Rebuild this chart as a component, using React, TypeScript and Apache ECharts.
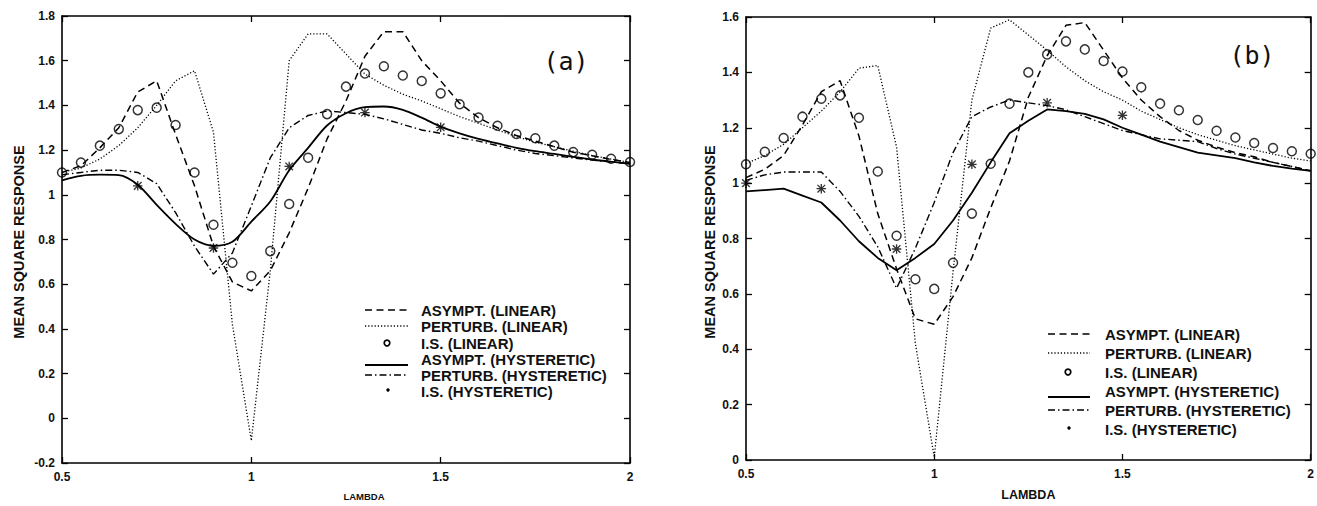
import React, { useEffect, useRef } from "react";
import * as echarts from "echarts";

// ---------- data ----------
const LAMBDA = [0.5, 0.55, 0.6, 0.65, 0.7, 0.75, 0.8, 0.85, 0.9, 0.95, 1.0, 1.05, 1.1, 1.15, 1.2, 1.25, 1.3, 1.35, 1.4, 1.45, 1.5, 1.55, 1.6, 1.65, 1.7, 1.75, 1.8, 1.85, 1.9, 1.95, 2.0];

// panel (a)
const A_ASYMPT_LIN = [1.10, 1.13, 1.21, 1.30, 1.46, 1.51, 1.27, 1.04, 0.77, 0.61, 0.57, 0.66, 0.83, 1.03, 1.25, 1.42, 1.62, 1.73, 1.73, 1.60, 1.51, 1.41, 1.345, 1.30, 1.265, 1.24, 1.215, 1.19, 1.175, 1.158, 1.145];
const A_PERTURB_LIN = [1.10, 1.12, 1.16, 1.22, 1.30, 1.40, 1.51, 1.555, 1.28, 0.42, -0.10, 0.66, 1.60, 1.72, 1.72, 1.63, 1.54, 1.49, 1.45, 1.42, 1.385, 1.35, 1.32, 1.29, 1.26, 1.235, 1.215, 1.195, 1.175, 1.16, 1.145];
const A_IS_LIN = [1.10, 1.144, 1.22, 1.294, 1.379, 1.39, 1.312, 1.10, 0.866, 0.696, 0.637, 0.748, 0.959, 1.166, 1.361, 1.484, 1.543, 1.575, 1.534, 1.509, 1.454, 1.405, 1.346, 1.309, 1.272, 1.253, 1.22, 1.191, 1.179, 1.161, 1.147];
const A_ASYMPT_HYS = [1.065, 1.085, 1.09, 1.088, 1.045, 0.955, 0.87, 0.80, 0.772, 0.79, 0.88, 0.97, 1.11, 1.21, 1.31, 1.365, 1.392, 1.395, 1.38, 1.345, 1.305, 1.275, 1.25, 1.23, 1.21, 1.195, 1.183, 1.17, 1.158, 1.148, 1.139];
const A_PERTURB_HYS = [1.09, 1.10, 1.11, 1.11, 1.10, 1.05, 0.92, 0.77, 0.645, 0.74, 0.95, 1.165, 1.30, 1.355, 1.375, 1.368, 1.36, 1.34, 1.315, 1.29, 1.275, 1.255, 1.24, 1.22, 1.20, 1.185, 1.175, 1.165, 1.155, 1.147, 1.139];
const A_IS_HYS_X = [0.7, 0.9, 1.1, 1.3, 1.5];
const A_IS_HYS_Y = [1.04, 0.762, 1.127, 1.368, 1.302];

// panel (b)
const B_ASYMPT_LIN = [1.02, 1.05, 1.10, 1.21, 1.33, 1.37, 1.17, 0.89, 0.69, 0.51, 0.49, 0.59, 0.73, 0.91, 1.08, 1.31, 1.46, 1.57, 1.58, 1.48, 1.38, 1.30, 1.24, 1.19, 1.155, 1.13, 1.11, 1.095, 1.075, 1.06, 1.045];
const B_PERTURB_LIN = [1.07, 1.10, 1.14, 1.20, 1.26, 1.33, 1.415, 1.425, 1.13, 0.42, 0.01, 0.68, 1.30, 1.56, 1.59, 1.535, 1.48, 1.42, 1.37, 1.33, 1.30, 1.26, 1.23, 1.20, 1.175, 1.155, 1.135, 1.12, 1.105, 1.09, 1.08];
const B_IS_LIN = [1.068, 1.113, 1.163, 1.24, 1.305, 1.317, 1.236, 1.042, 0.81, 0.653, 0.618, 0.712, 0.89, 1.07, 1.287, 1.40, 1.465, 1.512, 1.483, 1.441, 1.403, 1.346, 1.287, 1.263, 1.228, 1.189, 1.165, 1.145, 1.127, 1.115, 1.106];
const B_ASYMPT_HYS = [0.97, 0.975, 0.98, 0.955, 0.93, 0.865, 0.79, 0.73, 0.685, 0.73, 0.78, 0.865, 0.965, 1.075, 1.18, 1.225, 1.266, 1.26, 1.25, 1.23, 1.20, 1.175, 1.15, 1.13, 1.11, 1.10, 1.09, 1.075, 1.062, 1.052, 1.044];
const B_PERTURB_HYS = [1.01, 1.03, 1.04, 1.04, 1.04, 0.97, 0.88, 0.77, 0.62, 0.765, 0.93, 1.11, 1.24, 1.275, 1.30, 1.29, 1.28, 1.265, 1.24, 1.215, 1.19, 1.175, 1.16, 1.155, 1.15, 1.125, 1.105, 1.09, 1.075, 1.06, 1.044];
const B_IS_HYS_X = [0.5, 0.7, 0.9, 1.1, 1.3, 1.5];
const B_IS_HYS_Y = [1.0, 0.98, 0.762, 1.068, 1.29, 1.245];

const X_TICKS = [0.5, 1, 1.5, 2];
const LEGEND_LABELS = ["ASYMPT. (LINEAR)", "PERTURB. (LINEAR)", "I.S. (LINEAR)", "ASYMPT. (HYSTERETIC)", "PERTURB. (HYSTERETIC)", "I.S. (HYSTERETIC)"];
const Y_TITLE = "MEAN SQUARE RESPONSE";
const X_TITLE = "LAMBDA";

// ---------- styles ----------
const FONT = "'Liberation Sans', Arial, Helvetica, sans-serif";
const STAR_PATH =
  "path://M4.3,0L5.7,0L5.7,10L4.3,10Z M0,4.3L10,4.3L10,5.7L0,5.7Z M0.5,1.5L1.5,0.5L9.5,8.5L8.5,9.5Z M8.5,0.5L9.5,1.5L1.5,9.5L0.5,8.5Z";
const DASH = [7, 4.5];
const DOT = [1.2, 2];
const DASHDOT = [7, 3, 1.5, 3];

const pairs = (ys: number[]) => LAMBDA.map((x, i) => [x, ys[i]]);
const zip = (xs: number[], ys: number[]) => xs.map((x, i) => [x, ys[i]]);

function panelSeries(idx: number, d: any) {
  const base = { xAxisIndex: idx * 2, yAxisIndex: idx * 2, silent: true };
  return [
    { ...base, type: "line", name: LEGEND_LABELS[0], data: pairs(d.asLin), symbol: "none", lineStyle: { color: "#000", width: 1.5, type: DASH } },
    { ...base, type: "line", name: LEGEND_LABELS[1], data: pairs(d.peLin), symbol: "none", lineStyle: { color: "#000", width: 1.3, type: DOT } },
    { ...base, type: "scatter", name: LEGEND_LABELS[2], data: pairs(d.isLin), symbol: "circle", symbolSize: 9, itemStyle: { color: "rgba(255,255,255,0)", borderColor: "#000", borderWidth: 1.5 } },
    { ...base, type: "line", name: LEGEND_LABELS[3], data: pairs(d.asHys), symbol: "none", smooth: d.smooth, lineStyle: { color: "#000", width: 1.8, type: "solid" } },
    { ...base, type: "line", name: LEGEND_LABELS[4], data: pairs(d.peHys), symbol: "none", lineStyle: { color: "#000", width: 1.4, type: DASHDOT } },
    { ...base, type: "scatter", name: LEGEND_LABELS[5], data: zip(d.isHysX, d.isHysY), symbol: STAR_PATH, symbolSize: 9.5, itemStyle: { color: "#000" } },
  ];
}

function axes(gridIndex: number, ymin: number, ymax: number, titleSize: number, titlePad: number) {
  const line = { show: true, onZero: false, lineStyle: { color: "#000", width: 1.6 } };
  const tick = { show: true, inside: true, length: 6, lineStyle: { color: "#000", width: 1.3 } };
  const lbl = { color: "#111", fontFamily: FONT, fontWeight: "bold", fontSize: 12 };
  const xa = [
    {
      gridIndex, type: "value", min: 0.5, max: 2, interval: 0.5, position: "bottom",
      axisLine: line, axisTick: tick, splitLine: { show: false },
      axisLabel: { ...lbl, margin: 8, formatter: (v: number) => (X_TICKS.includes(v) ? String(v) : "") },
      name: X_TITLE, nameLocation: "middle", nameGap: 28,
      nameTextStyle: { color: "#111", fontFamily: FONT, fontWeight: "bold", fontSize: titleSize, padding: [0, 0, 0, titlePad] },
    },
    {
      gridIndex, type: "value", min: 0.5, max: 2, interval: 0.5, position: "top",
      axisLine: line, axisTick: tick, splitLine: { show: false }, axisLabel: { show: false },
    },
  ];
  const ya = [
    {
      gridIndex, type: "value", min: ymin, max: ymax, interval: 0.2, position: "left",
      axisLine: line, axisTick: tick, splitLine: { show: false },
      axisLabel: { ...lbl, margin: 7 },
    },
    {
      gridIndex, type: "value", min: ymin, max: ymax, interval: 0.2, position: "right",
      axisLine: line, axisTick: tick, splitLine: { show: false }, axisLabel: { show: false },
    },
  ];
  return { xa, ya };
}

function legendGraphics(lineX1: number, lineX2: number, markX: number, textX: number, rows: number[], fontSize: number) {
  const els: any[] = [];
  const ln = (y: number, dash: any, w: number) => ({
    type: "line", silent: true,
    shape: { x1: lineX1, y1: y, x2: lineX2, y2: y },
    style: { stroke: "#000", lineWidth: w, lineDash: dash },
  });
  els.push(ln(rows[0], DASH, 1.5));
  els.push(ln(rows[1], DOT, 1.3));
  els.push({ type: "circle", silent: true, shape: { cx: markX, cy: rows[2], r: 2.8 }, style: { fill: "none", stroke: "#000", lineWidth: 1.7 } });
  els.push(ln(rows[3] + 6, null, 1.8));
  els.push(ln(rows[4], DASHDOT, 1.4));
  els.push({ type: "circle", silent: true, shape: { cx: markX + 1, cy: rows[5] - 1, r: 1.7 }, style: { fill: "#000" } });
  LEGEND_LABELS.forEach((t, i) => {
    els.push({
      type: "text", silent: true, x: textX, y: rows[i],
      style: { text: t, fill: "#111", fontFamily: FONT, fontWeight: "bold", fontSize, align: "left", verticalAlign: "middle" },
    });
  });
  return els;
}

export default function App() {
  const ref = useRef<HTMLDivElement>(null);
  useEffect(() => {
    if (!ref.current) return;
    const chart = echarts.init(ref.current, null, { renderer: "svg" });
    const a = axes(0, -0.2, 1.8, 9.5, 36);
    const b = axes(1, 0, 1.6, 12.5, 0);
    const yTitleStyle = { text: Y_TITLE, fill: "#111", fontFamily: FONT, fontWeight: "bold", fontSize: 14.5, align: "center", verticalAlign: "middle" };
    const tagStyle = { fill: "#111", fontFamily: "'DejaVu Sans Mono', monospace", fontSize: 25, align: "center", verticalAlign: "middle" };
    const option: any = {
      animation: false,
      backgroundColor: "#fff",
      grid: [
        { left: 62, top: 16, width: 568, height: 451, containLabel: false },
        { left: 746, top: 17, width: 566, height: 450, containLabel: false },
      ],
      xAxis: [...a.xa, ...b.xa],
      yAxis: [...a.ya, ...b.ya],
      series: [
        ...panelSeries(0, { asLin: A_ASYMPT_LIN, peLin: A_PERTURB_LIN, isLin: A_IS_LIN, asHys: A_ASYMPT_HYS, peHys: A_PERTURB_HYS, isHysX: A_IS_HYS_X, isHysY: A_IS_HYS_Y, smooth: 0.3 }),
        ...panelSeries(1, { asLin: B_ASYMPT_LIN, peLin: B_PERTURB_LIN, isLin: B_IS_LIN, asHys: B_ASYMPT_HYS, peHys: B_PERTURB_HYS, isHysX: B_IS_HYS_X, isHysY: B_IS_HYS_Y, smooth: false }),
      ],
      graphic: [
        { type: "text", silent: true, x: 19, y: 242, rotation: Math.PI / 2, style: yTitleStyle },
        { type: "text", silent: true, x: 710, y: 242, rotation: Math.PI / 2, style: yTitleStyle },
        { type: "text", silent: true, x: 566, y: 61, style: { ...tagStyle, text: "(a)" } },
        { type: "text", silent: true, x: 1252, y: 55, style: { ...tagStyle, text: "(b)" } },
        ...legendGraphics(365, 408, 387, 421, [310, 326, 343, 359, 375, 391], 15),
        ...legendGraphics(1048, 1090, 1068, 1105, [334, 353, 372, 391, 410, 429], 15),
      ],
    };
    chart.setOption(option);
    return () => chart.dispose();
  }, []);
  return <div ref={ref} style={{ position: "fixed", left: 0, top: 0, width: 1317, height: 506, background: "#fff" }} />;
}
